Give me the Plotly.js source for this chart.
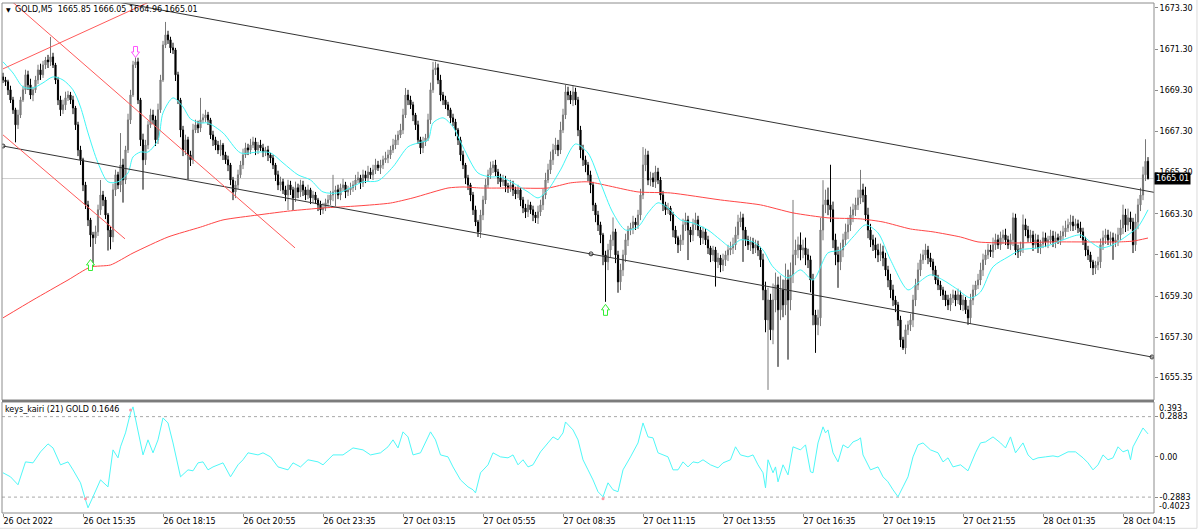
<!DOCTYPE html>
<html><head><meta charset="utf-8">
<script src="https://cdn.plot.ly/plotly-3.0.1.min.js"></script>
<style>html,body{margin:0;padding:0;background:#fff;overflow:hidden}#chart{width:1200px;height:532px}</style>
</head><body><div id="chart"></div>
<script>
// ---------------- DATA ----------------
const symbolName = 'GOLD,M5';
const indicatorName = 'keys_kairi (21) GOLD';
const firstOpen = 1669.95;
const closes = [
1669.80,1669.71,1669.32,1668.83,1668.35,1667.62,1668.10,1668.83,1669.32,1670.05,
1669.56,1669.07,1669.32,1669.80,1670.29,1670.05,1670.53,1670.77,1670.68,1670.92,
1670.53,1669.80,1668.83,1668.35,1668.59,1668.93,1669.07,1668.83,1668.44,1667.62,
1666.40,1665.92,1664.70,1663.73,1663.00,1662.27,1662.13,1662.42,1663.49,1664.21,
1663.97,1663.24,1662.51,1662.17,1664.46,1665.19,1664.70,1665.67,1664.94,1666.40,
1667.86,1669.07,1670.53,1670.68,1668.83,1666.89,1665.92,1666.64,1667.62,1668.10,
1667.86,1666.89,1668.35,1669.80,1671.50,1671.99,1671.75,1671.36,1671.26,1670.05,
1668.83,1667.37,1666.40,1666.89,1666.16,1665.92,1667.37,1667.62,1667.47,1667.86,
1667.96,1668.10,1667.86,1667.13,1666.89,1666.64,1666.40,1666.64,1666.16,1665.92,
1665.67,1664.94,1664.36,1664.70,1665.19,1665.67,1666.16,1666.50,1666.40,1666.64,
1666.79,1666.40,1666.64,1666.50,1666.30,1666.40,1666.16,1666.01,1665.67,1665.19,
1664.70,1664.85,1664.46,1664.21,1664.70,1664.46,1664.07,1664.56,1664.36,1664.70,
1664.46,1664.21,1664.46,1664.07,1664.21,1663.97,1663.73,1663.49,1663.58,1663.83,
1663.97,1664.21,1664.36,1664.46,1664.21,1664.56,1664.70,1664.36,1664.46,1664.56,
1664.70,1664.94,1665.04,1664.80,1665.19,1665.04,1665.33,1665.19,1665.43,1665.67,
1665.53,1665.67,1665.92,1666.01,1666.16,1666.40,1666.64,1666.89,1667.13,1667.37,
1668.10,1669.07,1668.83,1668.59,1668.10,1667.62,1666.89,1666.50,1666.79,1666.98,
1667.86,1669.32,1670.29,1670.39,1669.80,1669.07,1668.83,1668.59,1668.35,1667.96,
1667.76,1667.37,1666.89,1666.16,1665.67,1665.04,1664.70,1664.21,1663.49,1662.90,
1662.42,1663.24,1663.97,1664.70,1665.19,1665.53,1665.67,1665.33,1665.04,1664.85,
1664.94,1664.65,1664.56,1664.70,1664.46,1664.26,1664.46,1663.97,1663.58,1663.39,
1663.73,1663.49,1663.24,1663.10,1663.39,1663.73,1664.21,1664.94,1665.43,1665.92,
1666.40,1666.64,1666.40,1667.37,1668.10,1669.22,1669.07,1668.83,1669.22,1668.83,
1667.37,1666.40,1665.92,1665.67,1665.19,1664.70,1663.73,1663.24,1662.76,1662.27,
1661.30,1660.96,1661.54,1662.03,1662.42,1661.30,1659.99,1660.57,1661.30,1662.03,
1662.51,1662.61,1662.90,1662.76,1663.24,1664.21,1665.67,1666.16,1664.94,1665.04,
1664.85,1665.33,1664.94,1664.21,1663.73,1663.49,1663.58,1663.24,1662.51,1662.13,
1661.79,1662.03,1662.76,1663.00,1662.51,1662.27,1662.76,1663.00,1662.51,1662.13,
1662.42,1662.03,1661.64,1661.30,1661.54,1660.96,1661.15,1660.81,1661.06,1661.30,
1661.54,1661.64,1661.79,1662.27,1662.90,1663.10,1662.51,1662.03,1661.79,1661.93,
1661.64,1661.79,1661.54,1661.06,1659.60,1658.14,1659.11,1657.66,1659.11,1659.84,
1658.63,1659.60,1658.87,1660.08,1659.11,1660.33,1661.30,1661.54,1661.79,1661.54,
1661.64,1661.30,1661.06,1660.08,1658.38,1657.90,1658.24,1662.51,1663.73,1663.97,
1663.73,1663.49,1662.03,1661.30,1660.96,1661.54,1662.03,1662.42,1662.76,1663.24,
1663.49,1663.73,1664.07,1664.46,1664.21,1663.24,1662.51,1662.03,1661.79,1661.54,
1661.30,1661.45,1661.15,1660.57,1660.08,1659.60,1659.11,1658.87,1658.14,1657.17,
1656.78,1657.66,1657.90,1658.14,1659.11,1659.84,1660.57,1661.06,1661.30,1661.54,
1661.15,1660.96,1660.57,1660.08,1659.84,1659.60,1659.36,1659.11,1658.87,1659.21,
1659.36,1659.11,1659.36,1658.87,1659.11,1658.63,1658.24,1659.11,1659.60,1659.84,
1660.08,1660.57,1661.06,1661.30,1661.54,1661.45,1661.79,1662.03,1661.79,1662.13,
1662.27,1662.03,1661.79,1662.03,1663.10,1661.54,1661.45,1661.64,1662.76,1662.51,
1662.13,1662.27,1661.79,1662.03,1661.64,1661.83,1662.13,1661.93,1662.03,1662.22,
1661.93,1662.13,1662.03,1662.22,1662.42,1662.61,1662.76,1662.90,1662.71,1662.81,
1662.61,1662.42,1662.03,1661.54,1661.30,1660.96,1660.67,1660.81,1660.96,1661.79,
1662.13,1662.27,1662.03,1662.13,1661.93,1662.03,1662.27,1662.61,1663.24,1662.76,
1663.10,1662.90,1661.79,1662.90,1663.73,1664.21,1665.19,1665.85,1665.01
];
const upperWick = [
0.2,0.15,0.1,0.2,0.15,0.1,0.25,0.15,0.2,0.25,0.2,0.3,0.15,0.2,0.25,0.3,0.2,0.15,0.25,0.97,
0.2,0.1,0.15,0.2,0.25,0.3,0.2,0.15,0.2,0.1,0.15,0.2,0.1,0.15,0.2,0.1,0.15,0.3,0.25,0.73,
0.2,0.15,0.1,0.2,0.3,0.25,0.15,1.55,0.3,0.2,0.3,0.25,0.2,0.25,0.2,0.1,0.3,0.25,0.2,0.3,
0.25,0.2,0.3,0.25,0.2,0.63,0.2,0.15,0.25,0.1,0.15,0.1,0.2,0.25,0.15,0.2,0.3,0.25,0.2,1.07,
0.2,0.25,0.15,0.1,0.2,0.15,0.2,0.25,0.1,0.15,0.2,0.1,0.15,0.2,0.25,0.2,0.3,0.25,0.2,0.3,
0.25,0.2,0.15,0.25,0.2,0.15,0.2,0.1,0.15,0.1,0.2,0.25,0.15,0.2,0.25,0.2,0.15,0.3,0.2,0.25,
0.2,0.15,0.25,0.1,0.2,0.15,0.1,0.2,0.25,0.2,0.25,0.2,0.83,0.2,0.25,0.2,0.3,0.15,0.2,0.25,
0.2,0.25,0.3,0.15,0.25,0.2,0.3,0.2,0.25,0.3,0.2,0.25,0.2,0.3,0.25,0.2,0.3,0.25,0.2,0.3,
0.3,0.34,0.25,0.2,0.15,0.1,0.2,0.15,0.25,0.2,0.3,0.35,0.39,0.3,0.2,0.25,0.15,0.2,0.15,0.1,
0.2,0.15,0.1,0.15,0.2,0.1,0.15,0.1,0.15,0.2,0.1,0.25,0.2,0.3,0.25,0.3,0.2,0.25,0.15,0.2,
0.25,0.2,0.15,0.25,0.2,0.15,0.25,0.1,0.15,0.2,0.25,0.15,0.2,0.15,0.3,0.25,0.3,0.35,0.3,0.4,
0.3,0.35,0.25,0.4,0.3,0.34,0.25,0.2,0.3,0.2,0.15,0.2,0.25,0.2,0.15,0.2,0.15,0.1,0.2,0.15,
0.1,0.2,0.3,0.25,0.7,0.15,0.2,0.3,0.25,0.3,0.2,0.25,0.3,0.2,0.25,0.3,0.87,0.3,0.2,0.3,
0.25,0.3,0.2,0.15,0.2,0.15,0.25,0.1,0.15,0.2,0.1,0.25,0.3,0.35,0.2,0.15,0.3,0.35,0.2,0.15,
0.25,0.15,0.2,0.1,0.2,0.15,0.25,0.15,0.3,0.2,0.25,0.3,0.35,0.4,0.35,0.3,0.2,0.15,0.2,0.25,
0.2,0.25,0.2,0.15,0.3,0.4,0.6,0.3,0.8,0.6,0.4,0.7,0.5,0.8,0.5,0.6,2.67,0.5,0.4,0.6,
0.4,0.5,0.3,0.2,0.3,0.25,0.4,0.6,1.2,0.5,0.6,1.95,0.4,0.3,0.4,0.35,0.3,0.4,0.35,0.4,
0.3,0.35,0.4,0.97,0.3,0.4,0.35,0.3,0.25,0.35,0.3,0.4,0.3,0.25,0.2,0.3,0.25,0.2,0.15,0.2,
0.15,0.25,0.2,0.3,0.25,0.3,0.35,0.3,0.25,0.3,0.2,0.25,0.15,0.2,0.25,0.2,0.15,0.2,0.25,0.2,
0.25,0.2,0.3,0.2,0.25,0.15,0.2,0.3,0.25,0.2,0.3,0.35,0.3,0.25,0.3,0.25,0.35,0.3,0.25,0.3,
0.25,0.3,0.2,0.3,0.25,0.2,0.25,0.3,0.5,0.3,0.2,0.25,0.2,0.3,0.25,0.2,0.3,0.25,0.2,0.3,
0.25,0.3,0.2,0.25,0.3,0.35,0.3,0.35,0.3,0.25,0.2,0.3,0.2,0.15,0.2,0.15,0.1,0.2,0.25,0.3,
0.35,0.3,0.25,0.3,0.25,0.3,0.35,0.4,0.5,0.3,0.45,0.3,0.2,0.4,0.3,0.35,0.4,1.07,0.2
];
const lowerWick = [
0.15,0.2,0.25,0.15,0.2,0.85,0.2,0.15,0.1,0.2,0.25,0.2,0.3,0.15,0.2,0.25,0.15,0.2,0.3,0.2,
0.15,0.2,0.25,0.3,0.2,0.25,0.15,0.2,0.3,0.25,0.3,0.25,0.3,0.2,0.3,0.58,1.4,0.3,0.2,0.25,
0.3,0.2,1.0,0.6,0.25,0.3,0.2,0.35,1.1,0.2,0.15,0.2,0.1,0.15,0.2,0.3,1.45,0.25,0.2,0.15,
0.2,0.3,0.2,0.15,0.1,0.15,0.2,0.25,0.2,0.3,0.2,0.35,0.3,0.25,1.2,0.3,0.2,0.15,0.25,0.2,
0.15,0.2,0.25,0.2,0.3,0.25,0.2,0.3,0.25,0.2,0.3,0.25,0.4,0.3,0.2,0.15,0.2,0.15,0.25,0.2,
0.15,0.25,0.2,0.15,0.25,0.2,0.3,0.25,0.2,0.3,0.25,0.3,0.2,0.3,0.73,0.25,0.6,0.2,0.3,0.25,
0.3,0.25,0.2,0.3,0.25,0.2,0.3,0.25,0.2,0.15,0.2,0.25,0.3,0.7,0.2,0.25,0.15,0.3,0.2,0.25,
0.2,0.25,0.15,0.3,0.2,0.25,0.15,0.2,0.25,0.2,0.15,0.3,0.2,0.15,0.25,0.2,0.15,0.2,0.25,0.15,
0.2,0.15,0.25,0.2,0.3,0.25,0.2,0.3,0.25,0.2,0.15,0.2,0.15,0.25,0.2,0.3,0.25,0.2,0.3,0.25,
0.2,0.3,0.25,0.3,0.2,0.3,0.25,0.3,0.25,0.2,0.25,0.3,0.25,0.2,0.15,0.2,0.25,0.2,0.3,0.25,
0.2,0.3,0.25,0.2,0.3,0.25,0.2,0.3,0.25,0.3,0.25,0.2,0.3,0.25,0.3,0.2,0.25,0.2,0.15,0.2,
0.25,0.2,0.3,0.2,0.15,0.2,0.25,0.2,0.3,0.25,0.3,0.4,0.3,0.35,0.3,0.4,0.3,0.35,0.3,0.4,
0.5,1.94,0.4,0.35,0.3,0.4,0.53,0.4,0.3,0.35,0.3,0.25,0.3,0.25,0.2,0.25,0.2,0.3,0.25,0.3,
0.25,0.3,0.2,0.25,0.3,0.25,0.2,0.3,0.35,0.3,0.4,0.3,0.25,0.3,1.46,0.35,0.3,0.25,0.3,0.35,
0.3,0.25,0.3,0.35,0.3,1.2,0.3,0.35,0.3,0.3,0.3,0.25,0.3,0.25,0.2,0.25,1.55,0.3,0.25,0.3,
0.3,0.25,0.3,0.35,0.5,0.6,3.4,0.5,0.7,0.6,2.77,0.5,0.6,0.5,2.9,0.5,0.4,0.5,0.4,0.5,
0.4,0.5,0.4,0.6,0.5,1.36,0.5,0.4,0.5,0.4,0.5,0.6,0.4,0.5,1.26,0.4,0.35,0.3,0.35,0.3,
0.35,0.3,0.25,0.3,0.35,0.3,0.4,0.35,0.3,0.4,0.35,0.3,0.4,0.3,0.35,0.4,0.3,0.35,0.3,0.35,
0.1,0.3,0.25,0.3,0.35,0.3,0.25,0.3,0.2,0.25,0.3,0.25,0.3,0.2,0.25,0.3,0.25,0.3,0.25,0.3,
0.25,0.3,0.2,0.25,0.3,0.2,0.34,0.3,0.25,0.3,0.2,0.25,0.3,0.25,0.2,0.25,0.3,0.25,0.2,0.25,
0.3,0.25,0.2,0.25,0.3,0.25,0.3,0.2,0.25,0.3,0.2,0.25,0.3,0.2,0.25,0.3,0.2,0.25,0.3,0.2,
0.25,0.3,0.2,0.25,0.2,0.25,0.2,0.3,0.25,0.2,0.25,0.3,0.25,0.3,0.25,0.3,0.35,0.3,0.25,0.3,
0.25,0.3,0.25,0.3,0.87,0.25,0.3,0.25,0.3,0.35,0.3,0.35,0.4,0.3,0.35,0.3,0.25,0.3,0.05
];
// fast moving average (cyan), sampled at bar indices
const fastMaBar = [0,4,8,12,16,20,24,28,31,34,38,42,46,50,52,55,58,62,64,68,72,75,79,82,88,95,102,107,112,118,123,128,134,139,144,150,156,162,166,170,172,176,180,184,190,195,199,204,210,214,218,223,229,234,239,244,249,254,258,262,266,271,276,282,287,291,295,300,304,308,314,319,324,330,335,340,345,350,355,362,366,371,376,381,387,391,396,402,407,414,419,424,431,435,439,444,450,454,458];
const fastMaVal = [1670.68,1670.14,1669.46,1669.41,1669.66,1669.95,1669.80,1669.32,1668.49,1667.23,1665.77,1664.85,1664.85,1665.28,1666.06,1666.30,1666.30,1666.89,1668.20,1668.93,1668.49,1667.91,1667.71,1667.71,1667.23,1666.26,1666.30,1666.26,1665.77,1665.19,1664.94,1664.36,1664.31,1664.56,1664.85,1664.90,1665.58,1666.55,1666.74,1666.89,1667.71,1667.96,1667.52,1666.55,1665.28,1665.09,1665.09,1664.80,1664.36,1664.07,1664.46,1665.43,1666.69,1666.25,1664.80,1663.34,1662.51,1662.66,1663.34,1663.83,1663.58,1663.00,1662.85,1662.51,1662.03,1661.69,1662.03,1661.93,1661.54,1660.72,1660.18,1660.57,1660.08,1661.40,1661.54,1662.17,1662.76,1662.37,1661.06,1659.60,1659.94,1660.33,1660.08,1659.69,1659.21,1659.50,1660.72,1661.20,1661.54,1661.64,1661.79,1662.03,1662.27,1661.93,1661.64,1661.79,1662.27,1662.66,1663.49];
// slow moving average (red)
const slowMaBar = [0,12,26,35,43,52,66,79,88,102,115,128,142,155,164,178,184,191,204,218,227,234,254,267,287,303,316,330,343,352,363,372,383,390,406,419,432,446,452,458];
const slowMaVal = [1658.24,1659.11,1660.08,1660.71,1660.81,1661.39,1662.17,1662.65,1663.00,1663.24,1663.44,1663.58,1663.68,1663.82,1664.07,1664.55,1664.60,1664.55,1664.55,1664.55,1664.80,1664.85,1664.36,1664.31,1663.97,1663.73,1663.34,1663.10,1663.05,1662.90,1662.56,1662.42,1662.17,1661.93,1661.88,1661.93,1661.93,1661.93,1661.97,1662.12];
// kairi oscillator
const kairiBar = [
0,3,6,9,12,15,18,20,23,26,
28,31,33,34,36,39,42,44,46,47,
49,51,52,54,56,58,60,62,64,66,
68,71,74,76,78,80,82,84,88,91,
94,96,98,102,104,107,110,114,116,119,
122,126,128,132,136,140,144,147,151,154,
156,158,160,162,164,167,169,171,173,175,
178,180,183,186,188,189,191,194,196,199,
202,204,206,208,210,212,215,218,220,222,
224,225,228,230,232,234,236,238,240,242,
244,246,248,251,253,254,256,258,260,262,
266,268,270,272,274,276,278,280,283,286,
288,291,293,295,298,300,302,304,305,306,
308,309,310,312,314,316,319,321,323,324,
326,328,329,330,332,334,336,338,340,342,
343,344,347,350,352,354,356,358,360,362,
364,366,368,371,374,376,378,380,383,386,
389,391,393,396,399,401,403,405,408,410,
412,414,417,420,422,426,429,432,434,436,
438,440,442,444,446,448,450,451,452,454,
456,458];
const kairiVal = [
-0.114,-0.143,-0.200,-0.036,-0.043,0.036,0.093,0.064,-0.057,-0.036,
-0.093,-0.186,-0.308,-0.365,-0.286,-0.165,-0.215,0.050,-0.007,0.072,
0.172,0.315,0.358,0.172,0.014,0.122,0.029,0.122,0.279,0.243,
0.100,-0.143,-0.093,-0.100,-0.043,-0.036,-0.093,-0.072,-0.043,-0.143,
-0.057,-0.021,0.029,0.014,0.029,0,-0.072,-0.093,-0.043,-0.072,
-0.021,-0.036,-0.057,0.014,0.014,0.064,0.050,0.014,0.029,0.072,
0.122,0.064,0.179,0.143,0.014,0.029,0.100,0.179,0.122,0.014,
0,-0.072,-0.165,-0.215,-0.236,-0.258,-0.114,-0.057,0.029,0,
-0.007,0.014,-0.057,-0.021,-0.072,-0.057,0.036,0.100,0.143,0.122,
0.172,0.250,0.193,0.122,-0.021,-0.093,-0.165,-0.250,-0.286,-0.186,
-0.236,-0.250,-0.093,0,0.064,0.100,0.243,0.143,0.136,0.029,
0,-0.093,-0.093,-0.036,-0.072,-0.036,-0.043,-0.021,-0.057,-0.079,
-0.043,-0.021,0.072,0.014,0,0.014,-0.057,-0.114,-0.222,-0.021,
-0.114,-0.072,-0.179,-0.057,-0.129,0.072,0.050,0.086,-0.107,-0.114,
0.100,0.215,0.172,0.193,0.029,-0.036,0.086,0.064,0.107,0.122,
0.136,0.014,-0.093,-0.072,-0.143,-0.179,-0.236,-0.286,-0.215,-0.143,
0,0.086,0.100,0.050,0.029,-0.036,-0.007,-0.072,-0.057,-0.100,
0.029,0.100,0.107,0.143,0.100,0.064,0.143,0.029,0.100,0.014,
-0.021,-0.007,0,0.007,0,0.036,0.036,-0.007,-0.043,-0.093,
-0.057,0.014,-0.021,-0.007,0.072,0.036,0.050,-0.021,0.072,0.136,
0.207,0.1646];
const kairiLevels = [0.2883, -0.2883];
const kairiSignalBar = [33, 51, 240];
const kairiSignalVal = [-0.300, 0.336, -0.300];
// arrows
const sellArrowBar = [53];
const sellArrowPrice = [1671.16];
const buyArrowBar = [35, 241];
const buyArrowPrice = [1660.81, 1658.63];
// trend lines (bar index, price)
const channelBars = [0, 460.4];
const channelUpper = [1674.61, 1664.34];
const channelLower = [1666.59, 1656.32];
const channelAnchorBar = [0, 235.2, 459.6];
const channelAnchorPrice = [1666.59, 1661.35, 1656.34];
const redLineA = {bars:[0, 70], prices:[1670.34, 1674.23]};
const redLineB = {bars:[0, 116.8], prices:[1673.99, 1661.64]};
const redLineC = {bars:[0, 48.8], prices:[1667.13, 1662.08]};
// axes
const timeTickBar = [0,32,64,96,128,160,192,224,256,288,320,352,384,416,448];
const timeTickText = ['26 Oct 2022','26 Oct 15:35','26 Oct 18:15','26 Oct 20:55','26 Oct 23:35','27 Oct 03:15','27 Oct 05:55','27 Oct 08:35','27 Oct 11:15','27 Oct 13:55','27 Oct 16:35','27 Oct 19:15','27 Oct 21:55','28 Oct 01:35','28 Oct 04:15'];
const priceTicks = [1655.35,1657.30,1659.30,1661.30,1663.30,1665.30,1667.30,1669.30,1671.30,1673.30];
const priceRange = [1654.25, 1673.54];
const kairiRange = [-0.4023, 0.393];
const kairiTicks = [0.2883, 0, -0.2883];
const kairiTickText = ['0.2883', '0.00', '-0.2883'];

// ---------------- BUILD ----------------
const n = Math.min(closes.length, upperWick.length, lowerWick.length);
const idx = [], open = [], high = [], low = [], close = [];
for (let i = 0; i < n; i++) {
  const o = i === 0 ? firstOpen : closes[i - 1];
  const c = closes[i];
  idx.push(i); open.push(o); close.push(c);
  high.push(Math.max(o, c) + upperWick[i]);
  low.push(Math.min(o, c) - lowerWick[i]);
}
const L = n - 1;
const lastPrice = close[L];
const titleText = symbolName + '\u00a0\u00a0' + [open[L], high[L], low[L], close[L]].map(v => v.toFixed(2)).join(' ');
const kairiText = indicatorName + ' ' + kairiVal[kairiVal.length - 1].toFixed(4);

const FONT = {family: 'DejaVu Sans', size: 8, color: '#000'};
const lineTrace = (xs, ys, color, extra) => Object.assign({
  type: 'scatter', mode: 'lines', x: xs, y: ys, xaxis: 'x', yaxis: 'y',
  line: {color: color, width: 1}, hoverinfo: 'skip'
}, extra || {});

const traces = [
  {
    type: 'candlestick', x: idx, open: open, high: high, low: low, close: close,
    xaxis: 'x', yaxis: 'y', whiskerwidth: 0, hoverinfo: 'skip',
    increasing: {line: {color: '#787878', width: 1}, fillcolor: '#8a8a8a'},
    decreasing: {line: {color: '#000000', width: 1}, fillcolor: '#000000'}
  },
  lineTrace(slowMaBar, slowMaVal, '#ff4646', {line: {color: '#ff4646', width: 1, shape: 'spline', smoothing: 0.6}}),
  lineTrace(fastMaBar, fastMaVal, '#3ff6f6', {line: {color: '#3ff6f6', width: 1, shape: 'spline', smoothing: 0.8}}),
  lineTrace(channelBars, channelUpper, '#333333'),
  lineTrace(channelBars, channelLower, '#333333'),
  lineTrace(redLineA.bars, redLineA.prices, '#ff5a5a'),
  lineTrace(redLineB.bars, redLineB.prices, '#ff5a5a'),
  lineTrace(redLineC.bars, redLineC.prices, '#ff5a5a'),
  {type: 'scatter', mode: 'markers', x: channelAnchorBar, y: channelAnchorPrice, xaxis: 'x', yaxis: 'y',
   marker: {symbol: 'circle-open', size: 4, color: '#333', line: {width: 1}}, hoverinfo: 'skip'},
  {type: 'scatter', mode: 'lines', x: kairiBar, y: kairiVal, xaxis: 'x', yaxis: 'y2',
   line: {color: '#4ff8f8', width: 1}, hoverinfo: 'skip'},
  {type: 'scatter', mode: 'markers', x: kairiSignalBar, y: kairiSignalVal, xaxis: 'x', yaxis: 'y2',
   marker: {size: 3, color: '#ff9aa8'}, hoverinfo: 'skip'}
];

// hollow block arrows drawn as pixel-sized paths anchored at data points
const downArrowPath = 'M-2,5.5 L2,5.5 L2,0 L4,0 L0,-5.5 L-4,0 L-2,0 Z';
const upArrowPath = 'M-2,-5.5 L2,-5.5 L2,0 L4,0 L0,5.5 L-4,0 L-2,0 Z';
const arrowShape = (bar, price, path, color) => ({
  type: 'path', xref: 'x', yref: 'y', xsizemode: 'pixel', ysizemode: 'pixel',
  xanchor: bar, yanchor: price, path: path, fillcolor: '#ffffff',
  line: {color: color, width: 1}
});

// pane geometry (paper fractions): plot area 3..513 px, main pane ends at 400 px, indicator starts at 402 px
const mainBottom = 0.2216, subTop = 0.2176;
const shapes = [
  {type: 'line', xref: 'paper', yref: 'y', x0: 0, x1: 1, y0: lastPrice, y1: lastPrice, layer: 'below', line: {color: '#cfcfcf', width: 1}},
  {type: 'rect', xref: 'paper', yref: 'paper', x0: 0, x1: 1, y0: mainBottom, y1: 1, line: {color: '#8c8c8c', width: 1}},
  {type: 'rect', xref: 'paper', yref: 'paper', x0: 0, x1: 1, y0: 0, y1: subTop, line: {color: '#8c8c8c', width: 1}},
  {type: 'rect', xref: 'paper', yref: 'paper', x0: 0, x1: 1, y0: subTop, y1: mainBottom, fillcolor: '#7c7c7c', line: {width: 0}},
  {type: 'line', xref: 'paper', yref: 'paper', x0: 1.0373, x1: 1.0373, y0: -0.03, y1: 1.006, line: {color: '#dcdcdc', width: 1}},
  {type: 'line', xref: 'paper', yref: 'paper', x0: -0.01, x1: 1.0373, y0: -0.03, y1: -0.03, line: {color: '#dcdcdc', width: 1}}
].concat(kairiLevels.map(v => ({
  type: 'line', xref: 'paper', yref: 'y2', x0: 0, x1: 1, y0: v, y1: v, layer: 'below',
  line: {color: '#a8a8a8', width: 1, dash: 'dot'}
}))).concat(
  sellArrowBar.map((b, k) => arrowShape(b, sellArrowPrice[k], downArrowPath, '#ff55ff')),
  buyArrowBar.map((b, k) => arrowShape(b, buyArrowPrice[k], upArrowPath, '#33ee33'))
);

const annotations = [
  {xref: 'paper', yref: 'paper', x: 0, y: 0.9863, xanchor: 'left', yanchor: 'middle', xshift: 2, showarrow: false,
   text: '\u25bc', font: {family: 'DejaVu Sans', size: 6, color: '#000'}},
  {xref: 'paper', yref: 'paper', x: 0, y: 0.9863, xanchor: 'left', yanchor: 'middle', xshift: 11, showarrow: false,
   text: titleText, font: FONT},
  {xref: 'paper', yref: 'paper', x: 0, y: 0.2020, xanchor: 'left', yanchor: 'middle', xshift: 1, showarrow: false,
   text: kairiText, font: FONT},
  {xref: 'paper', yref: 'y', x: 1, y: lastPrice, xanchor: 'left', yanchor: 'middle', xshift: 0, showarrow: false,
   text: lastPrice.toFixed(2), bgcolor: '#000000', borderpad: 1, font: {family: 'DejaVu Sans', size: 8, color: '#ffffff'}},
  {xref: 'paper', yref: 'y2', x: 1, y: kairiRange[1], xanchor: 'left', yanchor: 'top', xshift: 3, showarrow: false,
   text: String(kairiRange[1]), font: FONT},
  {xref: 'paper', yref: 'y2', x: 1, y: kairiRange[0], xanchor: 'left', yanchor: 'bottom', xshift: 3, showarrow: false,
   text: String(kairiRange[0]), font: FONT}
];

const layout = {
  width: 1200, height: 532,
  margin: {l: 2, r: 46, t: 3, b: 19, pad: 0},
  paper_bgcolor: '#ffffff', plot_bgcolor: '#ffffff',
  showlegend: false, hovermode: false,
  boxgap: 0.35,
  font: FONT,
  xaxis: {
    range: [-0.4, 460.4], anchor: 'y2', showgrid: false, zeroline: false, showline: false,
    tickmode: 'array', tickvals: timeTickBar, ticktext: timeTickText,
    ticks: 'outside', ticklen: 3, tickcolor: '#8c8c8c', ticklabelposition: 'outside right',
    tickfont: FONT, rangeslider: {visible: false}, fixedrange: true
  },
  yaxis: {
    domain: [mainBottom, 1], range: priceRange, side: 'right', anchor: 'x',
    showgrid: false, zeroline: false, showline: false,
    tickmode: 'array', tickvals: priceTicks, ticktext: priceTicks.map(v => v.toFixed(2)),
    ticks: 'outside', ticklen: 3, tickcolor: '#8c8c8c', tickfont: FONT, fixedrange: true
  },
  yaxis2: {
    domain: [0, subTop], range: kairiRange, side: 'right', anchor: 'x',
    showgrid: false, zeroline: false, showline: false,
    tickmode: 'array', tickvals: kairiTicks, ticktext: kairiTickText,
    ticks: 'outside', ticklen: 3, tickcolor: '#8c8c8c', tickfont: FONT, fixedrange: true
  },
  shapes: shapes,
  annotations: annotations
};

Plotly.newPlot('chart', traces, layout, {staticPlot: true, displayModeBar: false, responsive: false});
</script>
</body></html>
